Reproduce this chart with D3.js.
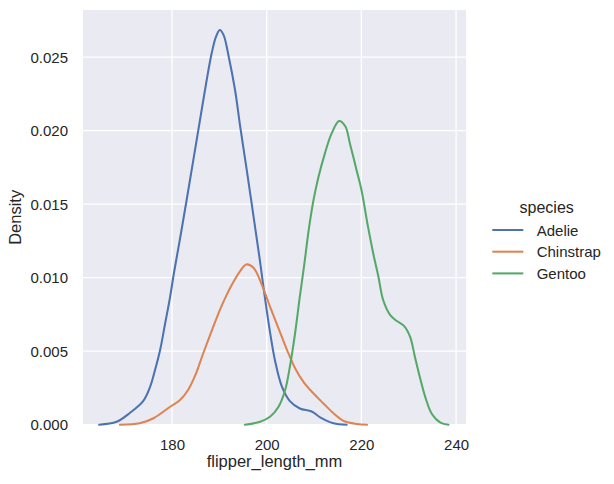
<!DOCTYPE html>
<html>
<head>
<meta charset="utf-8">
<script src="https://cdn.jsdelivr.net/npm/d3@7"></script>
<style>
  html, body { margin: 0; padding: 0; background: #fff; }
  svg { display: block; font-family: "Liberation Sans", Arial, sans-serif; }
</style>
</head>
<body>
<svg id="chart" width="614" height="484"></svg>
<script>
const species = ['Adelie', 'Chinstrap', 'Gentoo'];
const colors  = ['#4c72b0', '#dd8452', '#55a868'];

// KDE curves: flipper length (mm) and density
const adelieX = [164.6, 168.3, 171.1, 173.9, 175.4, 176.4, 177.5, 178.5, 179.6, 180.4, 181.5, 182.2,
    183.1, 184.5, 185.9, 187.3, 188.4, 189.3, 190.1, 190.9, 192.0, 193.3, 194.4, 195.8, 196.8,
    197.7, 198.6, 199.6, 200.7, 201.8, 203.2, 204.9, 207.0, 209.5, 211.3, 214.1, 216.9];
const adelieY = [0, 0.0002, 0.0008, 0.0016, 0.0026, 0.0037, 0.0051, 0.0068, 0.0087, 0.0103, 0.0123, 0.0136,
    0.0153, 0.0180, 0.0207, 0.0234, 0.0253, 0.0264, 0.02685, 0.0265, 0.0250, 0.0228, 0.0203, 0.0173, 0.0151,
    0.0131, 0.0111, 0.0087, 0.0063, 0.0043, 0.0026, 0.0016, 0.0011, 0.0009, 0.0005, 0.0001, 0];

const chinstrapX = [169.0, 173.2, 176.1, 179.6, 181.7, 183.4, 184.9, 186.6, 188.7, 190.1, 191.5, 192.9,
    194.4, 195.7, 197.2, 199.0, 200.7, 202.5, 204.3, 206.0, 207.8, 209.9, 212.0, 214.1, 216.3, 219.1, 221.2];
const chinstrapY = [0, 0.0001, 0.00044, 0.00122, 0.00168, 0.00236, 0.00335, 0.00486, 0.00665, 0.0078, 0.0088, 0.00967,
    0.01045, 0.0109, 0.01068, 0.0095, 0.00803, 0.00655, 0.00508, 0.00384, 0.0029, 0.00212, 0.00144, 0.00078, 0.00025, 0.00005, 0];

const gentooX = [195.4, 198.6, 200.7, 202.5, 203.9, 204.9, 206.0, 207.0, 207.9, 208.9, 209.9, 210.9,
    212.3, 213.7, 215.3, 216.6, 217.6, 219.0, 220.0, 221.4, 222.5, 223.6, 224.6, 226.1, 227.5, 229.0, 230.3,
    231.3, 232.4, 233.5, 234.9, 236.7, 238.4];
const gentooY = [0, 0.0002, 0.00054, 0.00122, 0.00236, 0.00395, 0.00622, 0.00871, 0.0108, 0.0133, 0.0153, 0.0168,
    0.01846, 0.0198, 0.02066, 0.0203, 0.0191, 0.0173, 0.0160, 0.01347, 0.01166, 0.01007, 0.00848, 0.00745, 0.00705, 0.00672, 0.00597,
    0.00463, 0.00318, 0.00188, 0.00073, 0.00014, 0];

const xTicks = [180, 200, 220, 240];
const yTicks = [0, 0.005, 0.010, 0.015, 0.020, 0.025];

const series = [
    { name: species[0], xs: adelieX,    ys: adelieY },
    { name: species[1], xs: chinstrapX, ys: chinstrapY },
    { name: species[2], xs: gentooX,    ys: gentooY }
];

const svg = d3.select('#chart');
const margin = { top: 10, left: 83 };
const width  = 383;
const height = 414.7;

const x = d3.scaleLinear().domain([161.2, 242.1]).range([0, width]);
const y = d3.scaleLinear().domain([0, 0.02821]).range([height, 0]);
const color = d3.scaleOrdinal().domain(species).range(colors);

const g = svg.append('g')
    .attr('transform', `translate(${margin.left},${margin.top})`);

g.append('rect')
    .attr('width', width)
    .attr('height', height)
    .attr('fill', '#eaeaf2');

// grid
g.append('g')
    .selectAll('line')
    .data(xTicks)
    .join('line')
    .attr('x1', d => x(d)).attr('x2', d => x(d))
    .attr('y1', 0).attr('y2', height)
    .attr('stroke', '#fff').attr('stroke-width', 1.3);
g.append('g')
    .selectAll('line')
    .data(yTicks)
    .join('line')
    .attr('x1', 0).attr('x2', width)
    .attr('y1', d => y(d)).attr('y2', d => y(d))
    .attr('stroke', '#fff').attr('stroke-width', 1.3);

// axes (no tick marks, no spines)
const xAxis = g.append('g')
    .attr('transform', `translate(0,${height})`)
    .call(d3.axisBottom(x).tickValues(xTicks).tickSize(0).tickPadding(15).tickFormat(d3.format('d')));
const yAxis = g.append('g')
    .call(d3.axisLeft(y).tickValues(yTicks).tickSize(0).tickPadding(15).tickFormat(d3.format('.3f')));
[xAxis, yAxis].forEach(ax => {
    ax.select('.domain').remove();
    ax.selectAll('text')
        .attr('fill', '#262626')
        .style('font-size', '15px')
        .style('font-family', '"Liberation Sans", Arial, sans-serif');
});

// curves
const line = d3.line()
    .x(d => x(d[0]))
    .y(d => y(Math.max(0, d[1])))
    .curve(d3.curveCatmullRom.alpha(0.5));

g.append('g')
    .selectAll('path')
    .data(series)
    .join('path')
    .attr('d', s => line(d3.zip(s.xs, s.ys)))
    .attr('fill', 'none')
    .attr('stroke', s => color(s.name))
    .attr('stroke-width', 2.05)
    .attr('stroke-linejoin', 'round')
    .attr('stroke-linecap', 'round');

// axis labels
svg.append('text')
    .attr('x', margin.left + width / 2)
    .attr('y', 467)
    .attr('text-anchor', 'middle')
    .attr('fill', '#262626')
    .style('font-size', '16.5px')
    .text('flipper_length_mm');

svg.append('text')
    .attr('transform', `translate(21,${margin.top + height / 2}) rotate(-90)`)
    .attr('text-anchor', 'middle')
    .attr('fill', '#262626')
    .style('font-size', '16.5px')
    .text('Density');

// legend
const legend = svg.append('g');
legend.append('text')
    .attr('x', 546.7)
    .attr('y', 213)
    .attr('text-anchor', 'middle')
    .attr('fill', '#262626')
    .style('font-size', '16px')
    .text('species');

const rows = legend.selectAll('g.row')
    .data(species)
    .join('g')
    .attr('class', 'row')
    .attr('transform', (d, i) => `translate(492.3,${230 + i * 21.7})`);
rows.append('line')
    .attr('x1', 0).attr('x2', 31)
    .attr('stroke', d => color(d))
    .attr('stroke-width', 2.05);
rows.append('text')
    .attr('x', 44.4)
    .attr('y', 5.5)
    .attr('fill', '#262626')
    .style('font-size', '15px')
    .text(d => d);
</script>
</body>
</html>
